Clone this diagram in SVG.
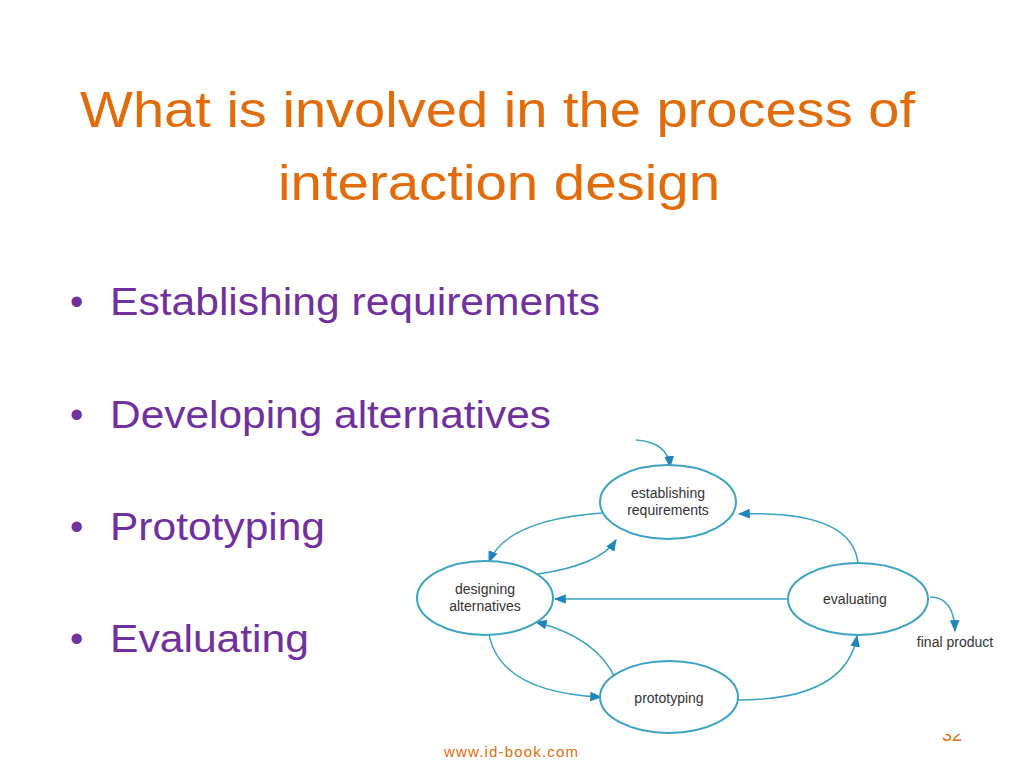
<svg xmlns="http://www.w3.org/2000/svg" width="1024" height="768" viewBox="0 0 1024 768">
<style>
.t{font-family:"Liberation Sans",Arial,sans-serif;fill:#E36C0A;font-size:50px}
.b{font-family:"Liberation Sans",Arial,sans-serif;fill:#7030A0;font-size:38px}
.n{fill:#fff;stroke:#3BA3C3;stroke-width:2}
.nl{font-family:"Liberation Sans",Arial,sans-serif;fill:#333;font-size:14px;text-anchor:middle}
.c{fill:none;stroke:#3BA3C3;stroke-width:1.5;marker-end:url(#a)}
</style>
<defs><marker id="a" viewBox="0 0 10 10" refX="9" refY="5" markerWidth="8" markerHeight="8" orient="auto"><path d="M0,1 L10,5 L0,9 z" fill="#1E86B8"/></marker></defs>
<rect width="1024" height="768" fill="#fff"/>
<text class="t" x="80" y="127" textLength="835" lengthAdjust="spacingAndGlyphs">What is involved in the process of</text>
<text class="t" x="278" y="200" textLength="442" lengthAdjust="spacingAndGlyphs">interaction design</text>
<g class="b">
<text x="70" y="315">•</text><text x="110" y="315" textLength="490" lengthAdjust="spacingAndGlyphs">Establishing requirements</text>
<text x="70" y="428">•</text><text x="110" y="428" textLength="441" lengthAdjust="spacingAndGlyphs">Developing alternatives</text>
<text x="70" y="540">•</text><text x="110" y="540" textLength="215" lengthAdjust="spacingAndGlyphs">Prototyping</text>
<text x="70" y="652">•</text><text x="110" y="652" textLength="199" lengthAdjust="spacingAndGlyphs">Evaluating</text>
</g>
<text x="952" y="741" font-family="Liberation Sans,sans-serif" font-size="18" fill="#E36C0A" text-anchor="middle">32</text>
<rect x="930" y="715" width="50" height="19" fill="#fff"/>
<text x="444" y="757" font-family="Liberation Sans,sans-serif" font-size="15" fill="#E36C0A" textLength="134">www.id-book.com</text>
<g id="connectors">
<path class="c" d="M636,440 Q668,442 670,467"/>
<path class="c" d="M602,513 Q506,520 489,562"/>
<path class="c" d="M538,574 Q600,565 616,540"/>
<path class="c" d="M858,563 Q852,510 739,514"/>
<path class="c" d="M790,599 L555,599"/>
<path class="c" d="M488,628 Q495,692 601,697"/>
<path class="c" d="M616,680 Q598,638 536,622"/>
<path class="c" d="M738,700 Q846,700 857,636"/>
<path class="c" d="M930,597 Q954,597 955,631"/>
</g>
<g id="est"><ellipse class="n" cx="668" cy="502" rx="68" ry="37"/><text class="nl" x="668" y="498">establishing</text><text class="nl" x="668" y="515">requirements</text></g>
<g id="des"><ellipse class="n" cx="485" cy="598" rx="68" ry="37"/><text class="nl" x="485" y="594">designing</text><text class="nl" x="485" y="611">alternatives</text></g>
<g id="eval"><ellipse class="n" cx="858" cy="599" rx="70" ry="36"/><text class="nl" x="855" y="604">evaluating</text></g>
<g id="proto"><ellipse class="n" cx="669" cy="697" rx="69" ry="36"/><text class="nl" x="669" y="703">prototyping</text></g>
<g id="final"><text class="nl" x="955" y="647">final product</text></g>
</svg>
